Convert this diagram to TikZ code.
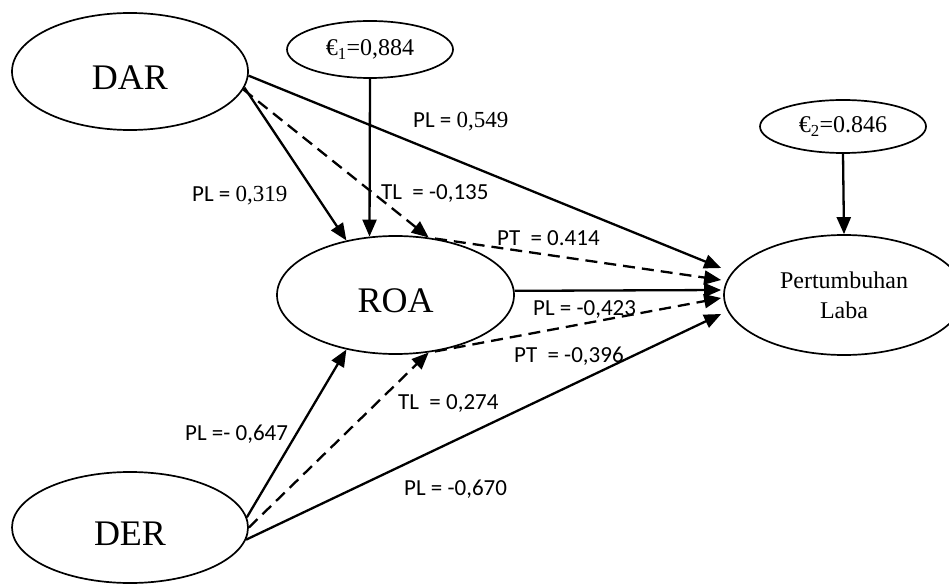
\documentclass[tikz,border=0pt]{standalone}
\usepackage{fontspec}
\setmainfont{Liberation Serif}
\newfontfamily\lblfont{Carlito}
\usetikzlibrary{shapes.geometric,arrows.meta,calc}
\newcommand\txtdown[1]{\raisebox{-6pt}[\height][\depth]{#1}}
\begin{document}
\begin{tikzpicture}[x=1pt,y=-1pt,
  ell/.style={draw,ellipse,line width=1.7pt,inner sep=0pt},
  big/.style={font=\fontsize{36}{40}\selectfont},
  eps/.style={font=\fontsize{24}{28}\selectfont},
  conn/.style={line width=2.3pt,-{Triangle[length=17pt,width=14pt]}},
  dsh/.style={conn,dash pattern=on 12pt off 7pt},
  lab/.style={font=\lblfont\fontsize{23}{28}\selectfont,inner sep=0pt,anchor=base west},
]
\useasboundingbox (0,0) rectangle (949,585);
\fill[white] (0,0) rectangle (949,585);

\node[ell,big,minimum width=236pt,minimum height=117pt] (dar) at (130,71.5) {\txtdown{DAR}};
\node[ell,eps,minimum width=166pt,minimum height=57pt] (e1) at (370,49.5) {€\textsubscript{1}=0,884};
\node[ell,big,minimum width=237pt,minimum height=118pt] (roa) at (395.5,295) {\txtdown{ROA}};
\node[ell,eps,minimum width=166pt,minimum height=53pt] (e2) at (843,126.5) {€\textsubscript{2}=0.846};
\node[ell,minimum width=240pt,minimum height=120pt,align=center,
      font=\fontsize{24}{30}\selectfont] (pl) at (844,295) {Pertumbuhan\\Laba};
\node[ell,big,minimum width=236pt,minimum height=111pt] (der) at (130,527.5) {\txtdown{DER}};

\draw[conn] (dar.-8) -- (roa.132);
\draw[dsh] (dar.-9) -- (roa.60);
\draw[conn] (dar.-2) -- ($(pl.west)+(-2,-27)$);
\draw[conn] (e1.south) -- (roa.114);
\draw[dsh] (roa.55) -- ($(pl.west)+(-2,-15)$);
\draw[conn] (roa.2.4) -- ($(pl.west)+(-2,-5)$);
\draw[dsh] (roa.-55) -- ($(pl.west)+(-2,3)$);
\draw[conn] (der.5) -- (roa.-132);
\draw[dsh] (der.east) -- (roa.-60);
\draw[conn] (der.-6) -- ($(pl.west)+(-2,19)$);
\draw[conn] (e2.south) -- (pl.north);

\node[lab] (l1) at (192,202) {PL = {\rmfamily 0,319}};
\node[lab] (l2) at (381,200) {TL\ \ = -0,135};
\node[lab] (l3) at (413,128) {PL = {\rmfamily 0,549}};
\node[lab] (l4) at (497,245) {PT\ \ = 0.414};
\node[lab] (l5) at (533,315) {PL = -0,423};
\node[lab] (l6) at (514,362) {PT\ \ = -0,396};
\node[lab] (l7) at (398,409) {TL\ \ = 0,274};
\node[lab] (l8) at (404,495) {PL = -0,670};
\node[lab] (l9) at (185,440) {PL =- 0,647};
\end{tikzpicture}
\end{document}
